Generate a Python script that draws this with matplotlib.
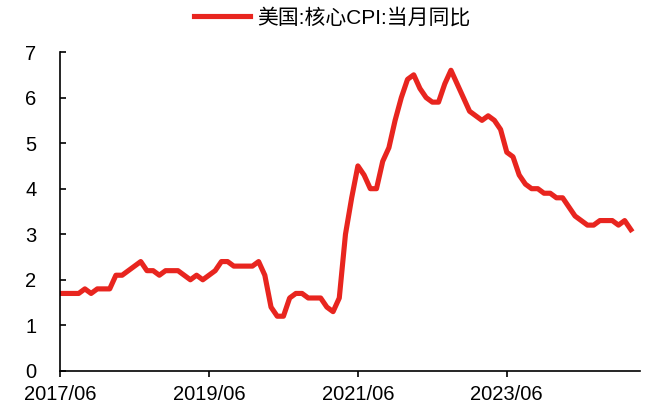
import numpy as np
import matplotlib
matplotlib.use('Agg')
import matplotlib.pyplot as plt

plt.rcParams['font.family'] = ['Liberation Sans', 'Noto Sans CJK SC', 'DejaVu Sans']

# US core CPI, year-on-year (%), monthly from 2017/06
start_year, start_month = 2017, 6
core_cpi = [
    1.7, 1.7, 1.7, 1.7, 1.8, 1.7, 1.8,                          # 2017 Jun-Dec
    1.8, 1.8, 2.1, 2.1, 2.2, 2.3, 2.4, 2.2, 2.2, 2.1, 2.2, 2.2,  # 2018
    2.2, 2.1, 2.0, 2.1, 2.0, 2.1, 2.2, 2.4, 2.4, 2.3, 2.3, 2.3,  # 2019
    2.3, 2.4, 2.1, 1.4, 1.2, 1.2, 1.6, 1.7, 1.7, 1.6, 1.6, 1.6,  # 2020
    1.4, 1.3, 1.6, 3.0, 3.8, 4.5, 4.3, 4.0, 4.0, 4.6, 4.9, 5.5,  # 2021
    6.0, 6.4, 6.5, 6.2, 6.0, 5.9, 5.9, 6.3, 6.6, 6.3, 6.0, 5.7,  # 2022
    5.6, 5.5, 5.6, 5.5, 5.3, 4.8, 4.7, 4.3, 4.1, 4.0, 4.0, 3.9,  # 2023
    3.9, 3.8, 3.8, 3.6, 3.4, 3.3, 3.2, 3.2, 3.3, 3.3, 3.3, 3.2,  # 2024
    3.3, 3.1,                                                    # 2025 Jan-Feb
]
series_label = '美国:核心CPI:当月同比'
tick_labels = ['2017/06', '2019/06', '2021/06', '2023/06']

months = np.arange(len(core_cpi))
tick_pos = [months[i] for i in range(0, len(core_cpi), 24)][:len(tick_labels)]

fig = plt.figure(figsize=(6.46, 4.13), dpi=100)
ax = fig.add_axes([0.093, 0.102, 0.898, 0.772])

ax.plot(months, core_cpi, color='#E8251F', lw=3.7, solid_joinstyle='round',
        label=series_label)

ax.set_xlim(0, 93.5)
ax.set_ylim(0, 7)
ax.set_yticks(range(0, 8))
ax.set_xticks(tick_pos)
ax.set_xticklabels(tick_labels)

for side in ('top', 'right'):
    ax.spines[side].set_visible(False)
for side in ('left', 'bottom'):
    ax.spines[side].set_linewidth(1.2)
ax.tick_params(axis='y', direction='in', length=4, width=1.2, labelsize=14.5, pad=17)
ax.tick_params(axis='x', direction='out', length=4, width=1.2, labelsize=14.5, pad=6)

# legend sits above the plot, centred on the figure
fig.legend(loc='upper center', bbox_to_anchor=(0.514, 0.986), frameon=False,
           fontsize=15, handlelength=2.7, handletextpad=0.35,
           borderaxespad=0.0, borderpad=0.1)

fig.savefig('out.png', dpi=100)
